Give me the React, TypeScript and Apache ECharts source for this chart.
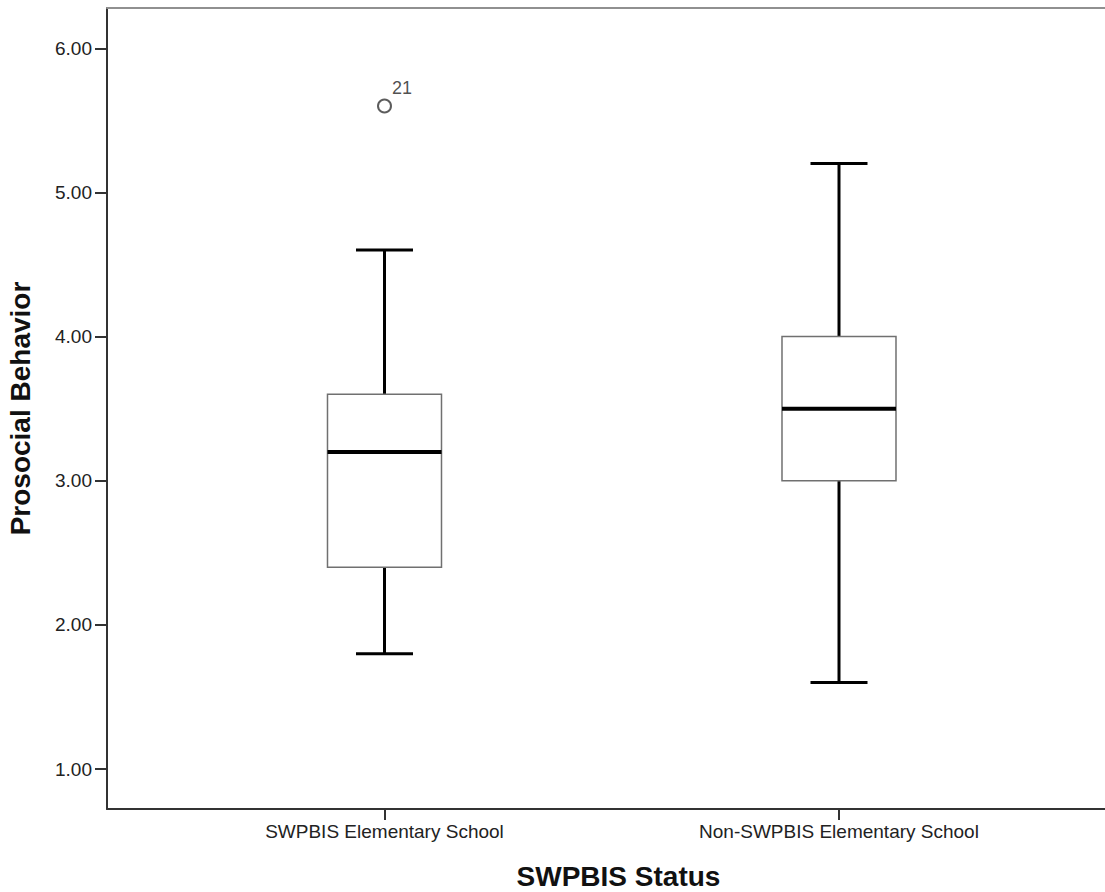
import React, { useEffect, useRef } from "react";
import * as echarts from "echarts";

const categories = ["SWPBIS Elementary School", "Non-SWPBIS Elementary School"];
const whiskerLow = [1.8, 1.6];
const quartile1 = [2.4, 3.0];
const medians = [3.2, 3.5];
const quartile3 = [3.6, 4.0];
const whiskerHigh = [4.6, 5.2];
const outlierCategory = [0];
const outlierValue = [5.6];
const outlierLabel = ["21"];
const yTickValues = [1, 2, 3, 4, 5, 6];
const xTickValues = [1, 2];

const FONT = "'Liberation Sans', Arial, sans-serif";

export default function App() {
  const ref = useRef<HTMLDivElement>(null);
  useEffect(() => {
    if (!ref.current) return;
    const chart = echarts.init(ref.current, null, { renderer: "svg" });
    const boxData = categories.map((_, i) => [
      i + 1,
      whiskerLow[i],
      quartile1[i],
      medians[i],
      quartile3[i],
      whiskerHigh[i],
    ]);
    const outlierData = outlierCategory.map((c, i) => ({
      value: [c + 1, outlierValue[i]],
      name: outlierLabel[i],
    }));
    const xMin = 0.38944;
    const xMax = xMin + 1023 / 454.5;
    const renderItem = (params: any, api: any) => {
      const x = api.value(0);
      const pLow = api.coord([x, api.value(1)]);
      const pQ1 = api.coord([x, api.value(2)]);
      const pMed = api.coord([x, api.value(3)]);
      const pQ3 = api.coord([x, api.value(4)]);
      const pHigh = api.coord([x, api.value(5)]);
      const cx = pLow[0];
      const half = 57;
      const cap = 28.5;
      const whisk = { stroke: "#000", lineWidth: 3 };
      return {
        type: "group",
        children: [
          { type: "line", shape: { x1: cx, y1: pHigh[1], x2: cx, y2: pQ3[1] }, style: whisk },
          { type: "line", shape: { x1: cx, y1: pQ1[1], x2: cx, y2: pLow[1] }, style: whisk },
          { type: "line", shape: { x1: cx - cap, y1: pHigh[1], x2: cx + cap, y2: pHigh[1] }, style: whisk },
          { type: "line", shape: { x1: cx - cap, y1: pLow[1], x2: cx + cap, y2: pLow[1] }, style: whisk },
          {
            type: "rect",
            shape: { x: cx - half, y: pQ3[1], width: half * 2, height: pQ1[1] - pQ3[1] },
            style: { fill: "#fff", stroke: "#707070", lineWidth: 1.5 },
          },
          {
            type: "line",
            shape: { x1: cx - half, y1: pMed[1], x2: cx + half, y2: pMed[1] },
            style: { stroke: "#000", lineWidth: 4 },
          },
        ],
      };
    };
    chart.setOption({
      animation: false,
      backgroundColor: "#fff",
      grid: {
        left: 107,
        right: -25,
        top: 8,
        bottom: 83,
        containLabel: false,
        outerBoundsMode: "none",
      },
      xAxis: [
        {
          type: "value",
          min: xMin,
          max: xMax,
          name: "SWPBIS Status",
          nameLocation: "middle",
          nameGap: 53,
          nameTextStyle: { fontFamily: FONT, fontSize: 28, fontWeight: "bold", color: "#111" },
          axisLine: { show: true, onZero: false, lineStyle: { color: "#333", width: 2 } },
          axisTick: { show: true, length: 11, customValues: xTickValues, lineStyle: { color: "#333", width: 2 } },
          axisLabel: {
            show: true,
            customValues: xTickValues,
            margin: 13,
            fontFamily: FONT,
            fontSize: 19,
            color: "#222",
            formatter: (v: number) => categories[Math.round(v) - 1] || "",
          },
          splitLine: { show: false },
        },
        {
          type: "value",
          position: "top",
          min: xMin,
          max: xMax,
          axisLine: { show: true, onZero: false, lineStyle: { color: "#909090", width: 2 } },
          axisTick: { show: false },
          axisLabel: { show: false },
          splitLine: { show: false },
        },
      ],
      yAxis: {
        type: "value",
        min: 0.7225,
        max: 6.2796,
        name: "Prosocial Behavior",
        nameLocation: "middle",
        nameGap: 73,
        nameTextStyle: { fontFamily: FONT, fontSize: 28, fontWeight: "bold", color: "#111" },
        axisLine: { show: true, onZero: false, lineStyle: { color: "#333", width: 2 } },
        axisTick: { show: true, length: 12, customValues: yTickValues, lineStyle: { color: "#333", width: 2 } },
        axisLabel: {
          show: true,
          customValues: yTickValues,
          margin: 15,
          fontFamily: FONT,
          fontSize: 19,
          color: "#222",
          formatter: (v: number) => v.toFixed(2),
        },
        splitLine: { show: false },
      },
      series: [
        {
          type: "custom",
          renderItem,
          data: boxData,
          encode: { x: 0, y: [1, 2, 3, 4, 5] },
          clip: false,
        },
        {
          type: "scatter",
          data: outlierData,
          symbol: "circle",
          symbolSize: 13,
          itemStyle: { color: "#fff", borderColor: "#333", borderWidth: 2 },
          label: {
            show: true,
            formatter: (p: any) => p.name,
            position: [15, -19],
            align: "left",
            verticalAlign: "top",
            fontFamily: FONT,
            fontSize: 18,
            color: "#222",
          },
        },
      ],
    });
    return () => chart.dispose();
  }, []);
  return (
    <div
      ref={ref}
      style={{ position: "absolute", left: 0, top: 0, width: 1105, height: 892 }}
    />
  );
}
